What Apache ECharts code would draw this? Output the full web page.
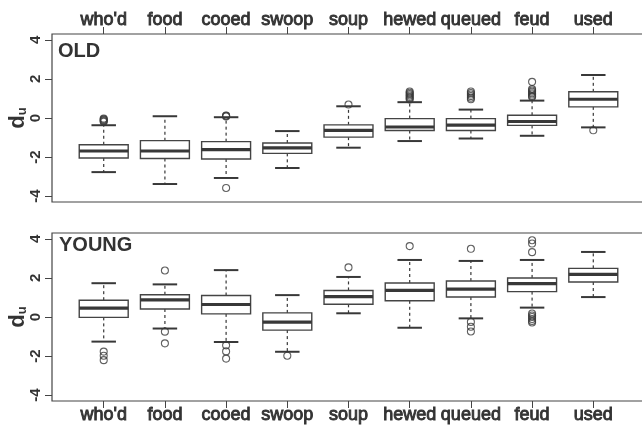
<!DOCTYPE html>
<html><head><meta charset="utf-8">
<script src="https://cdn.jsdelivr.net/npm/echarts@6/dist/echarts.min.js"></script>
<style>html,body{margin:0;padding:0;background:#fff}#c{width:642px;height:427px}</style>
</head><body><div id="c"></div>
<script>
const categories = ["who'd", "food", "cooed", "swoop", "soup", "hewed", "queued", "feud", "used"];
const yTicks = [-4, -2, 0, 2, 4];
const xTicks = [1, 2, 3, 4, 5, 6, 7, 8, 9];

const oldLow  = [-2.77, -3.38, -3.07, -2.56, -1.52, -1.18, -1.05, -0.91, -0.48];
const oldQ1   = [-2.05, -2.07, -2.10, -1.81, -0.98, -0.64, -0.64, -0.38,  0.57];
const oldMed  = [-1.69, -1.69, -1.62, -1.53, -0.63, -0.46, -0.36, -0.18,  0.96];
const oldQ3   = [-1.37, -1.16, -1.21, -1.28, -0.35, -0.03, -0.03,  0.14,  1.34];
const oldHigh = [-0.37,  0.09,  0.04, -0.67,  0.60,  0.81,  0.43,  0.89,  2.20];
const oldOutliers = [
  [1, -0.03], [1, -0.07], [1, -0.11], [1, -0.15], [1, -0.19],
  [3, 0.08], [3, 0.11], [3, 0.13], [3, -3.58],
  [5, 0.69],
  [6, 1.36], [6, 1.29], [6, 1.22], [6, 1.15], [6, 1.08], [6, 1.01], [6, 0.95],
  [7, 1.36], [7, 1.28], [7, 1.20], [7, 1.12], [7, 1.04], [7, 0.96],
  [8, 1.85], [8, 1.48], [8, 1.41], [8, 1.34], [8, 1.27], [8, 1.20], [8, 1.13], [8, 1.08],
  [9, -0.63]
];

const youngLow  = [-1.26, -0.59, -1.28, -1.78, 0.19, -0.55, -0.07, 0.48, 1.02];
const youngQ1   = [-0.02,  0.41,  0.16, -0.67, 0.65,  0.83,  1.02, 1.30, 1.79];
const youngMed  = [ 0.45,  0.88,  0.64, -0.26, 1.04,  1.36,  1.43, 1.71, 2.18];
const youngQ3   = [ 0.86,  1.14,  1.10,  0.21, 1.36,  1.74,  1.84, 2.00, 2.49];
const youngHigh = [ 1.73,  1.67,  2.40,  1.12, 2.05,  2.92,  2.87, 2.92, 3.33];
const youngOutliers = [
  [1, -1.77], [1, -1.98], [1, -2.21],
  [2, 2.38], [2, -0.75], [2, -1.35],
  [3, -1.45], [3, -1.76], [3, -2.13],
  [4, -1.98],
  [5, 2.54],
  [6, 3.63],
  [7, 3.49], [7, -0.25], [7, -0.50], [7, -0.74],
  [8, 3.93], [8, 3.76], [8, 3.32], [8, 0.18], [8, 0.08], [8, 0.00], [8, -0.10], [8, -0.20], [8, -0.28]
];

function boxRows(lo, q1, md, q3, hi) {
  return categories.map((c, i) => [i + 1, lo[i], q1[i], md[i], q3[i], hi[i]]);
}

const LINE = '#383838';
function renderBox(params, api) {
  const x = api.value(0);
  const lo = api.coord([x, api.value(1)]);
  const q1 = api.coord([x, api.value(2)]);
  const md = api.coord([x, api.value(3)]);
  const q3 = api.coord([x, api.value(4)]);
  const hi = api.coord([x, api.value(5)]);
  const w = api.size([0.8, 0])[0];
  const cx = lo[0];
  const half = w / 2, sh = w / 4;
  const dash = { stroke: LINE, lineWidth: 1.2, lineDash: [3, 3], fill: null };
  const cap = { stroke: LINE, lineWidth: 2, fill: null };
  return {
    type: 'group',
    children: [
      { type: 'line', shape: { x1: cx, y1: q3[1], x2: cx, y2: hi[1] }, style: dash },
      { type: 'line', shape: { x1: cx, y1: q1[1], x2: cx, y2: lo[1] }, style: dash },
      { type: 'line', shape: { x1: cx - sh, y1: hi[1], x2: cx + sh, y2: hi[1] }, style: cap },
      { type: 'line', shape: { x1: cx - sh, y1: lo[1], x2: cx + sh, y2: lo[1] }, style: cap },
      { type: 'rect', shape: { x: cx - half, y: q3[1], width: w, height: q1[1] - q3[1] },
        style: { fill: '#fff', stroke: '#444', lineWidth: 1.4 } },
      { type: 'line', shape: { x1: cx - half, y1: md[1], x2: cx + half, y2: md[1] },
        style: { stroke: LINE, lineWidth: 3.2, fill: null } }
    ]
  };
}

const TXT = '#333';
const FONT = 'Liberation Sans, Arial, sans-serif';

function xAxisFor(gi, pos) {
  return {
    gridIndex: gi, type: 'value', position: pos, min: 0.155, max: 9.845,
    axisLine: { show: false, onZero: false },
    splitLine: { show: false },
    axisTick: { show: true, customValues: xTicks, length: 7, lineStyle: { color: '#444', width: 1 } },
    axisLabel: { customValues: xTicks, formatter: v => categories[Math.round(v) - 1],
      fontSize: 18, color: TXT, fontFamily: FONT, margin: 5, textBorderColor: TXT, textBorderWidth: 0.9 }
  };
}
function yAxisFor(gi) {
  return {
    gridIndex: gi, type: 'value', min: -4.3, max: 4.3,
    axisLine: { show: false, onZero: false },
    splitLine: { show: false },
    axisTick: { show: true, customValues: yTicks, length: 7, lineStyle: { color: '#444', width: 1 } },
    axisLabel: { customValues: yTicks, rotate: 90, fontSize: 15, fontWeight: 'bold', color: TXT, fontFamily: FONT, margin: 9 },
    name: '{d|d}{u|u}', nameLocation: 'middle', nameRotate: 90, nameGap: 23, nameMoveOverlap: false,
    nameTextStyle: {
      rich: {
        d: { fontSize: 22, fontWeight: 'bold', color: TXT, fontFamily: FONT },
        u: { fontSize: 13, fontWeight: 'bold', color: TXT, fontFamily: FONT, padding: [10, 0, 0, 0] }
      }
    }
  };
}

const chart = echarts.init(document.getElementById('c'), null, { renderer: 'canvas' });
chart.setOption({
  animation: false,
  backgroundColor: '#fff',
  grid: [
    { left: 52, top: 34, width: 593, height: 168, show: true, borderColor: '#444', borderWidth: 1.2, backgroundColor: 'transparent', outerBoundsMode: 'none', containLabel: false },
    { left: 52, top: 233, width: 593, height: 168, show: true, borderColor: '#444', borderWidth: 1.2, backgroundColor: 'transparent', outerBoundsMode: 'none', containLabel: false }
  ],
  xAxis: [xAxisFor(0, 'top'), xAxisFor(1, 'bottom')],
  yAxis: [yAxisFor(0), yAxisFor(1)],
  graphic: [
    { type: 'text', left: 58, top: 41, style: { text: 'OLD', fontSize: 20, fontWeight: 'bold', fill: TXT, fontFamily: FONT } },
    { type: 'text', left: 59, top: 235, style: { text: 'YOUNG', fontSize: 20, fontWeight: 'bold', fill: TXT, fontFamily: FONT } }
  ],
  series: [
    { type: 'custom', xAxisIndex: 0, yAxisIndex: 0, renderItem: renderBox, silent: true,
      data: boxRows(oldLow, oldQ1, oldMed, oldQ3, oldHigh), encode: { x: 0, y: [1, 2, 3, 4, 5] } },
    { type: 'custom', xAxisIndex: 1, yAxisIndex: 1, renderItem: renderBox, silent: true,
      data: boxRows(youngLow, youngQ1, youngMed, youngQ3, youngHigh), encode: { x: 0, y: [1, 2, 3, 4, 5] } },
    { type: 'scatter', xAxisIndex: 0, yAxisIndex: 0, data: oldOutliers, symbol: 'circle', symbolSize: 7, silent: true,
      itemStyle: { color: 'rgba(0,0,0,0)', borderColor: LINE, borderWidth: 1.1 } },
    { type: 'scatter', xAxisIndex: 1, yAxisIndex: 1, data: youngOutliers, symbol: 'circle', symbolSize: 7, silent: true,
      itemStyle: { color: 'rgba(0,0,0,0)', borderColor: LINE, borderWidth: 1.1 } }
  ]
});
</script>
</body></html>
